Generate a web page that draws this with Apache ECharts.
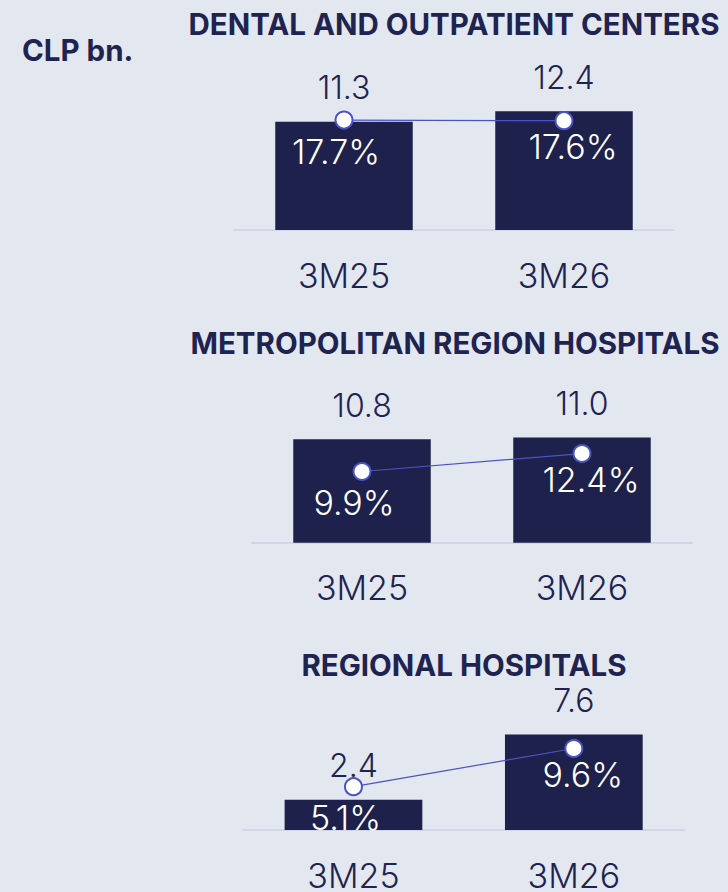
<!DOCTYPE html>
<html>
<head>
<meta charset="utf-8">
<style>
  html, body { margin: 0; padding: 0; background: #e3e7f0; }
  #chart { width: 728px; height: 892px; }
</style>
<script src="https://cdn.jsdelivr.net/npm/echarts@6/dist/echarts.min.js"></script>
</head>
<body>
<div id="chart"></div>
<script>
// Revenue (CLP bn.) and margin (%) by business unit
const categories = ['3M25', '3M26'];
const unitLabel = 'CLP bn.';
const panelTitles = [
  'DENTAL AND OUTPATIENT CENTERS',
  'METROPOLITAN REGION HOSPITALS',
  'REGIONAL HOSPITALS'
];
const dentalRevenue = [11.3, 12.4];
const dentalMargin = [17.7, 17.6];
const metroRevenue = [10.8, 11.0];
const metroMargin = [9.9, 12.4];
const regionalRevenue = [2.4, 7.6];
const regionalMargin = [5.1, 9.6];

const NAVY = '#1d214c';
const TEXT = '#1f2350';
const LINE = '#4a53c2';
const AXIS = '#d3d5ef';
const FONT = 'Inter, "Noto Sans", sans-serif';

// Layout of each panel: grid box plus the scale ranges of both value axes
const panels = [
  { title: panelTitles[0], titleX: 454, titleY: 24, left: 234, top: 60, width: 440,
    revenue: dentalRevenue, margin: dentalMargin, revMax: 17.76, pctMax: 27.37 },
  { title: panelTitles[1], titleX: 455, titleY: 343, left: 252, top: 372.7, width: 440,
    revenue: metroRevenue, margin: metroMargin, revMax: 17.76, pctMax: 23.64 },
  { title: panelTitles[2], titleX: 464, titleY: 665, left: 243.3, top: 661, width: 440.7,
    revenue: regionalRevenue, margin: regionalMargin, revMax: 13.44, pctMax: 19.9 }
];
const GRID_H = 170;
// label placement of the margin figures relative to their markers
const marginOffsets = [[-8, 31], [9, 26]];

const grid = [], xAxis = [], yAxis = [], series = [], graphic = [];

graphic.push({
  type: 'text', x: 22, y: 50,
  style: { text: unitLabel, font: 'bold 29.5px ' + FONT, fill: TEXT, align: 'left', verticalAlign: 'middle' }
});

panels.forEach((p, i) => {
  grid.push({ left: p.left, top: p.top, width: p.width, height: GRID_H, containLabel: false });
  graphic.push({
    type: 'text', x: p.titleX, y: p.titleY,
    style: { text: p.title, font: 'bold 29.5px ' + FONT, fill: TEXT, align: 'center', verticalAlign: 'middle' }
  });
  xAxis.push({
    type: 'category', gridIndex: i, data: categories,
    axisLine: { show: true, lineStyle: { color: AXIS, width: 2 } },
    axisTick: { show: false },
    axisLabel: { color: TEXT, fontFamily: FONT, fontSize: 34, fontWeight: 300, margin: 28 }
  });
  yAxis.push({ type: 'value', gridIndex: i, min: 0, max: p.revMax, show: false, splitLine: { show: false } });
  yAxis.push({ type: 'value', gridIndex: i, min: 0, max: p.pctMax, show: false, splitLine: { show: false } });

  series.push({
    type: 'bar', xAxisIndex: i, yAxisIndex: 2 * i, data: p.revenue,
    barWidth: '62.5%',
    itemStyle: { color: NAVY },
    label: {
      show: true, position: 'top', distance: 18,
      color: TEXT, fontFamily: FONT, fontSize: 32, fontWeight: 300,
      formatter: d => d.value.toFixed(1)
    },
    silent: true
  });
  series.push({
    type: 'line', xAxisIndex: i, yAxisIndex: 2 * i + 1,
    data: p.margin.map((v, k) => ({ value: v, label: { offset: marginOffsets[k] } })),
    symbol: 'circle', symbolSize: 17,
    itemStyle: { color: '#ffffff', borderColor: LINE, borderWidth: 2 },
    lineStyle: { color: LINE, width: 1.2 },
    label: {
      show: true, position: 'inside',
      color: '#ffffff', fontFamily: FONT, fontSize: 34, fontWeight: 300,
      formatter: d => d.value.toFixed(1) + '%'
    },
    z: 5, silent: true, animation: false
  });
});

const chart = echarts.init(document.getElementById('chart'), null, { renderer: 'svg' });
chart.setOption({
  backgroundColor: '#e3e7f0',
  animation: false,
  grid, xAxis, yAxis, series, graphic
});
</script>
</body>
</html>
